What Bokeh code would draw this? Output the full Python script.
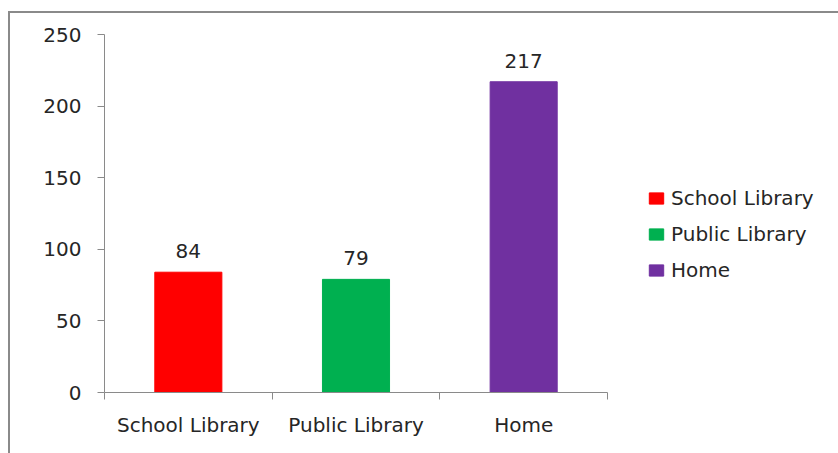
from bokeh.plotting import figure
from bokeh.models import (ColumnDataSource, Range1d, FixedTicker,
                          LabelSet, Legend, LegendItem)
from bokeh.core.properties import value
from bokeh.embed import file_html
from bokeh.resources import INLINE

categories = ["School Library", "Public Library", "Home"]
values = [84, 79, 217]
colors = ["#FF0000", "#00B050", "#7030A0"]
y_ticks = [0, 50, 100, 150, 200, 250]

FONT = "DejaVu Sans"
FS = "20px"
TXT = "#262626"
AX = "#8a8a8a"

xs = [i + 0.5 for i in range(len(categories))]
src = ColumnDataSource(dict(x=xs, top=values, color=colors, cat=categories,
                            lbl=[str(v) for v in values]))

p = figure(frame_width=503, frame_height=358, output_backend="svg", toolbar_location=None,
           x_range=Range1d(0, len(categories)), y_range=Range1d(0, 250),
           min_border_left=94, min_border_top=21, min_border_bottom=61, min_border_right=231)
p.styles = {"border-left": "2px solid #8a8a8a", "border-top": "2px solid #8a8a8a",
            "margin-top": "11px", "margin-left": "8px"}
p.outline_line_color = None
p.xgrid.visible = False
p.ygrid.visible = False
p.background_fill_color = "white"
p.border_fill_color = "white"

r = p.vbar(x="x", top="top", width=0.4, bottom=0, color="color", source=src)

labels = LabelSet(x="x", y="top", text="lbl", source=src, text_align="center",
                  text_baseline="bottom", y_offset=14, text_font=value(FONT),
                  text_font_size=FS, text_color=TXT)
p.add_layout(labels)

# x axis
xa = p.xaxis[0]
xa.ticker = FixedTicker(ticks=xs, minor_ticks=list(range(len(categories) + 1)))
xa.major_label_overrides = {x: c for x, c in zip(xs, categories)}
xa.major_tick_line_color = None
xa.major_tick_out = 0
xa.minor_tick_in = 0
xa.minor_tick_out = 7
xa.minor_tick_line_color = AX
xa.axis_line_color = AX
xa.major_label_text_font = FONT
xa.major_label_text_font_size = FS
xa.major_label_text_color = TXT
xa.major_label_standoff = 13

# y axis
ya = p.yaxis[0]
ya.ticker = FixedTicker(ticks=y_ticks)
ya.minor_tick_line_color = None
ya.major_tick_in = 0
ya.major_tick_out = 7
ya.major_tick_line_color = AX
ya.axis_line_color = AX
ya.major_label_text_font = FONT
ya.major_label_text_font_size = FS
ya.major_label_text_color = TXT
ya.major_label_standoff = 16

items = [LegendItem(label=c, renderers=[r], index=i) for i, c in enumerate(categories)]
legend = Legend(items=items, location=(40, 110), padding=0, margin=0,
                border_line_color=None, background_fill_alpha=0,
                glyph_width=18, glyph_height=14, label_height=24, spacing=12,
                label_standoff=6, label_text_font=FONT, label_text_font_size=FS,
                label_text_color=TXT)
p.add_layout(legend, "right")

open("out.html", "w").write(file_html(p, INLINE))
